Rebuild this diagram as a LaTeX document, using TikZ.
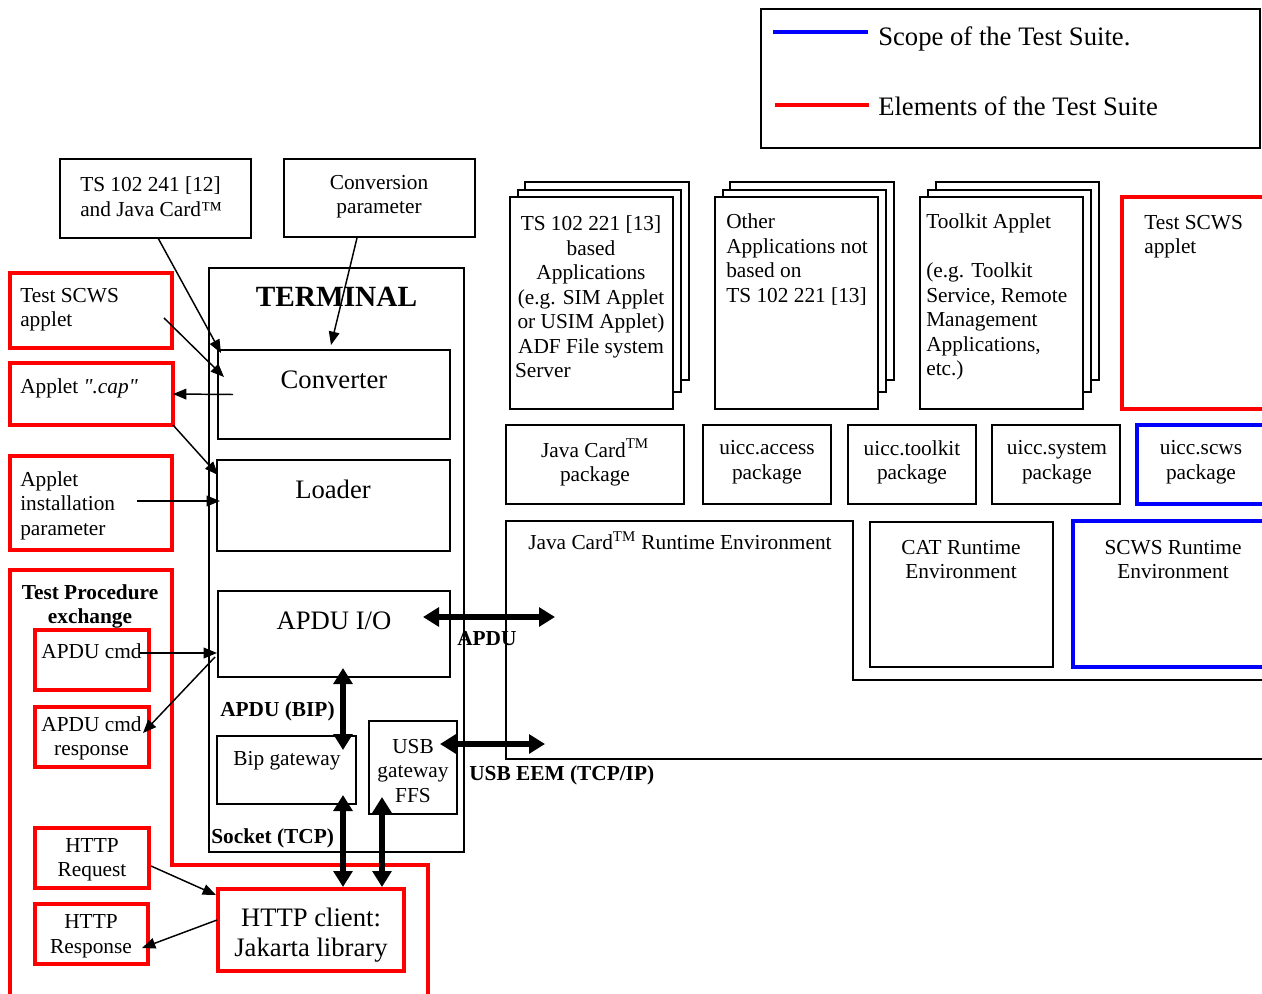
\documentclass[tikz,border=0pt]{standalone}
\usepackage{fontspec}
\setmainfont{Liberation Serif}[Ligatures=TeXOff]
\usetikzlibrary{arrows.meta,calc}
\newcommand\mybox[6]{\node[#2, anchor=north west, inner sep=0pt, outer sep=0pt, minimum width={(#5-(#3))*0.75pt}, minimum height={(#6-(#4))*0.75pt}] (#1) at (#3,#4) {};}
\begin{document}
\begin{tikzpicture}[x=0.75pt,y=-0.75pt,
  blk/.style={draw=black, line width=1.2pt, fill=white},
  redb/.style={draw=red, line width=3pt},
  blueb/.style={draw=blue, line width=3pt},
  txt/.style={inner sep=0pt, yshift=-1.5pt, font=\fontsize{16}{18.4}\selectfont},
  bigtxt/.style={inner sep=0pt, yshift=-2pt, font=\fontsize{20}{22.5}\selectfont},
  boldtxt/.style={inner sep=0pt, yshift=-1.5pt, font=\fontsize{16}{18.4}\selectfont\bfseries},
  thinarr/.style={line width=1.1pt, -{Triangle[length=10pt,width=8pt]}},
  thickarr/.style={line width=4.5pt, {Triangle[length=12pt,width=14pt]}-{Triangle[length=12pt,width=14pt]}}
]
\useasboundingbox (0,0) rectangle (1262,994);
\clip (0,0) rectangle (1262,994);

% legend
\mybox{legend}{blk}{761}{9}{1260}{148}
\draw[blue, line width=3pt] (773,32) -- (868,32);
\draw[red, line width=3pt] (775,105) -- (869,105);
\node[bigtxt, anchor=west] (lgA) at (878,36) {Scope of the Test Suite.};
\node[bigtxt, anchor=west] (lgB) at (878,104) {Elements of the Test Suite};

% top boxes
\mybox{ts}{blk}{60}{159}{251}{238}
\node[txt, anchor=west, align=left] (tsT) at (80,194.5) {TS 102 241 [12]\\and Java Card™};
\mybox{cp}{blk}{284}{159}{475}{237}
\node[txt, align=center] (cpT) at (379,194.5) {Conversion\\parameter};

% terminal
\mybox{term}{blk}{209}{268}{464}{852}
\node[inner sep=0pt, font=\fontsize{22}{24}\selectfont\bfseries] (termT) at (336.5,297) {TERMINAL};
\mybox{conv}{blk}{218}{350}{450}{439}
\node[bigtxt] (convT) at (334,377) {Converter};
\mybox{load}{blk}{217}{460}{450}{551}
\node[bigtxt] (loadT) at (333,487) {Loader};
\mybox{apdu}{blk}{218}{591}{450}{677}
\node[bigtxt] (apduT) at (334,618) {APDU I/O};
\mybox{bip}{blk}{217}{736}{356}{804}
\node[txt] (bipT) at (287,759) {Bip gateway};
\mybox{usb}{blk}{369}{721}{457}{814}
\node[txt, align=center] (usbT) at (413,769) {USB\\gateway\\FFS};

\node[boldtxt, anchor=west] (lblBIP) at (220,709) {APDU (BIP)};
\node[boldtxt, anchor=west] (lblSock) at (211,836) {Socket (TCP)};

% red elements left
\mybox{scwsL}{redb}{10}{273}{172}{348}
\node[txt, anchor=west, align=left] (scwsLT) at (20,307.5) {Test SCWS\\applet};
\mybox{cap}{redb}{10}{363}{173}{425}
\node[txt, anchor=west] (capT) at (20,386) {Applet \textit{".cap"}};
\mybox{inst}{redb}{10}{456}{172}{550}
\node[txt, anchor=west, align=left] (instT) at (20,503.5) {Applet\\installation\\parameter};
\draw[red, line width=3pt] (10,1000) -- (10,570) -- (172,570) -- (172,865) -- (428,865) -- (428,1000);
\node[boldtxt, align=center] (tpeT) at (90,604.5) {Test Procedure\\exchange};
\mybox{cmd}{redb}{35}{630}{149}{690}
\node[txt] (cmdT) at (91.5,649) {APDU cmd};
\mybox{resp}{redb}{35}{707}{149}{767}
\node[txt, align=center] (respT) at (91.5,736.5) {APDU cmd\\response};
\mybox{hreq}{redb}{35}{828}{149}{888}
\node[txt, align=center] (hreqT) at (92,858) {HTTP\\Request};
\mybox{hres}{redb}{35}{904}{148}{964}
\node[txt, align=center] (hresT) at (91,934.5) {HTTP\\Response};
\mybox{http}{redb}{218}{889}{404}{971}
\node[bigtxt, align=center] (httpT) at (311,932) {HTTP client:\\Jakarta library};

% stacked applications
\mybox{s1c}{blk}{525}{182}{689}{380}
\mybox{s1b}{blk}{518}{190}{681}{392}
\mybox{s1}{blk}{510}{197}{673}{409}
\node[txt, align=flush center, text width=114pt] (s1T) at (591,295) {TS 102 221 [13]\\based\\Applications\\(e.g. SIM Applet\\or USIM Applet)\\ADF File system\\\makebox[\linewidth][l]{Server}};
\mybox{s2c}{blk}{730}{182}{894}{380}
\mybox{s2b}{blk}{723}{190}{886}{392}
\mybox{s2}{blk}{715}{197}{878}{409}
\node[txt, anchor=west, align=left] (s2T) at (726,257.5) {Other\\Applications not\\based on\\TS 102 221 [13]};
\mybox{s3c}{blk}{936}{182}{1099}{380}
\mybox{s3b}{blk}{928}{190}{1091}{392}
\mybox{s3}{blk}{920}{197}{1083}{409}
\node[txt, anchor=west, align=left] (s3T) at (926,295) {Toolkit Applet\\\mbox{}\\(e.g. Toolkit\\Service, Remote\\Management\\Applications,\\etc.)};
\mybox{scwsR}{redb}{1122}{197}{1280}{409}
\node[txt, anchor=west, align=left] (scwsRT) at (1144,234.5) {Test SCWS\\applet};

% packages
\mybox{jc}{blk}{506}{425}{684}{504}
\node[txt, align=center] (jcT) at (595,460.5) {Java Card\textsuperscript{TM}\\package};
\mybox{acc}{blk}{703}{425}{831}{504}
\node[txt, align=center] (accT) at (767,460.5) {uicc.access\\package};
\mybox{tk}{blk}{848}{425}{976}{504}
\node[txt, align=center] (tkT) at (912,460.5) {uicc.toolkit\\package};
\mybox{sys}{blk}{992}{425}{1120}{504}
\node[txt, align=center] (sysT) at (1057,460.5) {uicc.system\\package};
\mybox{scwsP}{blueb}{1137}{425}{1280}{504}
\node[txt, align=center] (scwsPT) at (1201,460.5) {uicc.scws\\package};

% runtime environments
\draw[line width=1.2pt] (1280,759) -- (506,759) -- (506,521) -- (853,521) -- (853,680) -- (1280,680);
\node[txt, anchor=west] (jcreT) at (528,539) {Java Card\textsuperscript{TM} Runtime Environment};
\mybox{cat}{blk}{870}{522}{1053}{667}
\node[txt, align=center] (catT) at (961,557.5) {CAT Runtime\\Environment};
\mybox{scwsRE}{blueb}{1073}{521}{1280}{667}
\node[txt, align=center] (scwsRET) at (1173,557.5) {SCWS Runtime\\Environment};

\node[boldtxt, anchor=west] (lblAPDU) at (457,637) {APDU};
\node[boldtxt, anchor=west] (lblUSB) at (469,773) {USB EEM (TCP/IP)};

% thin arrows
\draw[thinarr] ($(ts.south)+(2.5,0)$) -- ($(conv.north west)+(3,3)$);
\draw[thinarr] ($(cp.south)+(-22.5,1)$) -- ($(conv.north)+(-3,-5)$);
\draw[thinarr] ($(scwsL.east)+(-8,7.5)$) -- ($(conv.west)+(6,-17.5)$);
\draw[thinarr] ($(conv.west)+(15,0)$) -- (cap.east);
\draw[thinarr] (cap.south east) -- ($(load.north west)+(1,15)$);
\draw[thinarr] ($(inst.east)+(-35,-2)$) -- ($(load.west)+(3,-4.5)$);
\draw[thinarr] ($(cmd.east)+(-9,-7)$) -- ($(apdu.west)+(-1,19)$);
\draw[thinarr] ($(apdu.west)+(-3,23)$) -- ($(resp.north east)+(-6,26)$);
\draw[thinarr] ($(hreq.east)+(2,8)$) -- ($(http.west)+(-2,-35)$);
\draw[thinarr] ($(http.west)+(-1,-10)$) -- ($(hres.east)+(-6,14)$);

% thick arrows
\draw[thickarr] ($(apdu.east)+(-27,-17)$) -- ($(apdu.east)+(105,-17)$);
\draw[thickarr] ($(apdu.south)+(9,-9)$) -- ($(bip.north east)+(-13,14)$);
\draw[thickarr] ($(bip.south east)+(-13,-9)$) -- ($(http.north)+(32,-2)$);
\draw[thickarr] ($(usb.south)+(-31,-17)$) -- ($(http.north)+(71,-2)$);
\draw[thickarr] ($(usb.east)+(-17,-23.5)$) -- ($(usb.east)+(88,-23.5)$);
\end{tikzpicture}
\end{document}
